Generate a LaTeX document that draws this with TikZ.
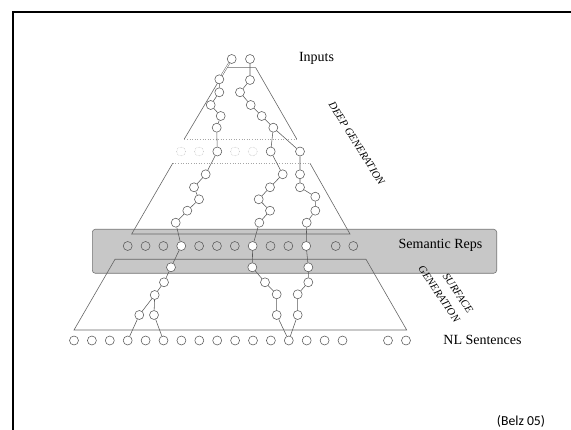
\documentclass[tikz,border=0pt]{standalone}
\usepackage{fontspec}
\setmainfont{Liberation Serif}
\newfontfamily\notefont{Carlito}
\begin{document}
\begin{tikzpicture}[x=1pt,y=-1pt,
  nd/.style={circle,draw=black!65,fill=white,inner sep=0pt,minimum size=9pt,line width=0.55pt},
  sem/.style={nd,fill=none},
  ghost/.style={circle,draw=black!30,densely dotted,inner sep=0pt,minimum size=9pt,line width=0.5pt},
  link/.style={draw=black!65,line width=0.55pt},
  twin/.style={draw=black!65,line width=0.45pt,double,double distance=0.9pt},
  outline/.style={draw=black!60,line width=0.6pt},
  sep/.style={draw=black!35,dotted,line width=0.6pt},
  lbl/.style={font=\fontsize{14}{16}\selectfont},
  rot/.style={font=\fontsize{10.8}{16}\selectfont\itshape}
]
\useasboundingbox (0,0) rectangle (571,430);

% page frame
\draw[line width=1.6pt] (12.7,430) -- (12.7,12) -- (571,12);

% semantic representation band
\draw[draw=black!55,fill=black!22,line width=0.6pt,rounded corners=3pt]
  (92.3,229.3) rectangle (496.7,273.3);

% deep generation pyramid (split by the dotted level)
\draw[outline] (184.3,139) -- (226.7,67.7) -- (255.7,67.7) -- (296.7,139);
\draw[sep] (184.3,139) -- (296.7,139);
\draw[sep] (172.7,163.3) -- (310,163.3);
\draw[outline] (172.7,163.3) -- (131.7,234) -- (350,234) -- (310,163.3);

% surface generation trapezoid
\draw[outline] (115,259.3) -- (366,259.3) -- (406.7,330) -- (74,330) -- cycle;

% input nodes
\node[nd] (i1) at (231.7,59) {};
\node[nd] (i2) at (250,59) {};

% upper deep chains
\node[nd] (l1) at (219.3,79.3) {};
\node[nd] (l2) at (219.3,92.3) {};
\node[nd] (l3) at (210.7,105) {};
\node[nd] (l4) at (220.7,116) {};
\node[nd] (l5) at (216.7,127.7) {};
\node[nd] (r1) at (250,80) {};
\node[nd] (r2) at (240,92.3) {};
\node[nd] (r3) at (250.7,105) {};
\node[nd] (r4) at (261.7,116) {};
\node[nd] (r5) at (273.3,127.7) {};

% intermediate level
\node[ghost] (g1) at (181,151.5) {};
\node[ghost] (g2) at (199,151.5) {};
\node[nd]    (m1) at (217.3,151.5) {};
\node[ghost] (g3) at (235,151.5) {};
\node[ghost] (g4) at (252.7,151.5) {};
\node[nd]    (m2) at (270.7,151.5) {};
\node[nd]    (m3) at (300,151.5) {};

% lower deep chains
\node[nd] (a1) at (205.7,174.3) {};
\node[nd] (a2) at (194,187.3) {};
\node[nd] (a3) at (199,199.3) {};
\node[nd] (a4) at (187.3,210.7) {};
\node[nd] (a5) at (175.7,222.7) {};
\node[nd] (b1) at (282.7,174.3) {};
\node[nd] (b2) at (270,187.3) {};
\node[nd] (b3) at (258.7,199.3) {};
\node[nd] (b4) at (270,210.7) {};
\node[nd] (b5) at (259.3,222.7) {};
\node[nd] (c1) at (300,174.3) {};
\node[nd] (c2) at (300,187.3) {};
\node[nd] (c3) at (315.3,196.7) {};
\node[nd] (c4) at (315.3,210.7) {};
\node[nd] (c5) at (306.7,222.7) {};

% semantic representations
\foreach \k in {0,1,2,4,5,6,8,9}
  \node[sem] (s\k) at ({127.7+17.85*\k},246) {};
\node[nd] (s3)  at ({127.7+17.85*3},246) {};
\node[nd] (s7)  at ({127.7+17.85*7},246) {};
\node[nd] (s10) at ({127.7+17.85*10},246) {};
\node[sem] (s11) at (335.7,246) {};
\node[sem] (s12) at (353.3,246) {};

% surface chains
\node[nd] (d1) at (171,267.3) {};
\node[nd] (d2) at (164,282.3) {};
\node[nd] (d3) at (154.7,295) {};
\node[nd] (d4) at (139.3,315) {};
\node[nd] (d5) at (154,315) {};
\node[nd] (e1) at (252.3,267.3) {};
\node[nd] (e2) at (265,282.3) {};
\node[nd] (e3) at (276.7,294.3) {};
\node[nd] (e4) at (276.7,315) {};
\node[nd] (f1) at (308.3,267.3) {};
\node[nd] (f2) at (308.3,282.3) {};
\node[nd] (f3) at (297.7,294.3) {};
\node[nd] (f4) at (297.7,315) {};

% sentence words
\foreach \k in {0,...,15}
  \node[nd] (w\k) at ({74+17.9*\k},340.5) {};
\node[nd] (w16) at (388,340.5) {};
\node[nd] (w17) at (406,340.5) {};

% connections
\draw[twin] (i1) -- (l1);
\draw[link] (l1) -- (l2) -- (l3) -- (l4) -- (l5) -- (m1);
\draw[link] (i2) -- (r1) -- (r2) -- (r3) -- (r4) -- (r5) -- (m2);
\draw[link] (r5) -- (m3);
\draw[link] (m1) -- (a1) -- (a2) -- (a3) -- (a4) -- (a5) -- (s3);
\draw[link] (m2) -- (b1) -- (b2) -- (b3) -- (b4) -- (b5) -- (s7);
\draw[link] (m3) -- (c1) -- (c2) -- (c3) -- (c4) -- (c5) -- (s10);
\draw[link] (s3) -- (d1) -- (d2) -- (d3) -- (d4) -- (w3);
\draw[link] (d3) -- (d5) -- (w5);
\draw[link] (s7) -- (e1) -- (e2) -- (e3) -- (e4) -- (w12);
\draw[link] (s10) -- (f1) -- (f2) -- (f3) -- (f4) -- (w12);

% labels
\node[lbl] (tin)  at (316.5,58.5) {Inputs};
\node[lbl] (tsem) at (440.5,245.5) {Semantic Reps};
\node[lbl] (tnl)  at (482.5,340) {NL Sentences};
\node[rot,rotate=-58] (tdeep) at (356.7,143.3) {DEEP GENERATION};
\node[rot,rotate=-56,align=right,inner sep=0pt] (tsurf) at (445.8,289.4) {SURFACE\\GENERATION};
\node[font=\notefont\fontsize{13.7}{16}\selectfont] (cite) at (521,421.5) {(Belz 05)};
\end{tikzpicture}
\end{document}
